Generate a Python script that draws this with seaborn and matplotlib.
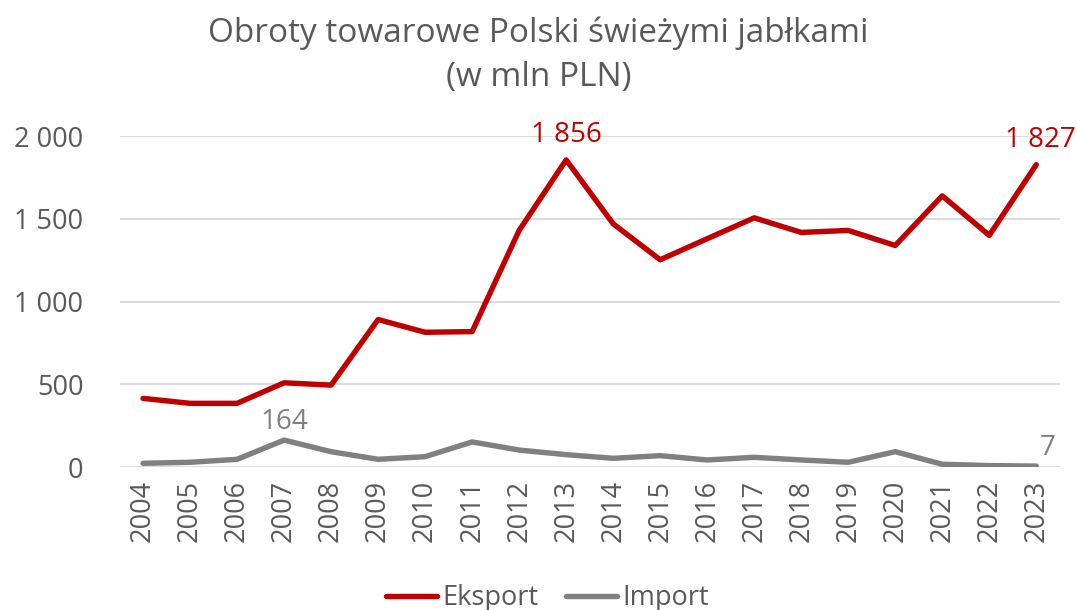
import pandas as pd
import matplotlib.pyplot as plt
import seaborn as sns

# data (mln PLN)
years = [str(y) for y in range(2004, 2024)]
eksport = [416, 386, 386, 510, 496, 892, 815, 819, 1430, 1856,
           1470, 1253, 1380, 1506, 1418, 1430, 1339, 1639, 1400, 1827]
imports = [24, 30, 48, 164, 94, 48, 64, 153, 104, 76,
           54, 70, 44, 60, 44, 30, 94, 18, 10, 7]
yticks = [0, 500, 1000, 1500, 2000]

df = pd.DataFrame({'rok': years * 2,
                   'wartosc': eksport + imports,
                   'seria': ['Eksport'] * len(years) + ['Import'] * len(years)})

sns.set_style("white")
plt.rcParams['font.family'] = ['Open Sans', 'DejaVu Sans']
txt = '#595959'
colors = {'Eksport': '#C00000', 'Import': '#808080'}

fig = plt.figure(figsize=(10.77, 6.10), dpi=100)
ax = fig.add_axes([0.111, 0.234, 0.873, 0.543])

sns.lineplot(data=df, x='rok', y='wartosc', hue='seria', palette=colors,
             linewidth=3.9, ax=ax, sort=False)

ax.set_xlim(-0.5, len(years) - 0.5)
ax.set_ylim(0, 2000)
ax.set_yticks(yticks)
ax.set_yticklabels([f'{v:,}'.replace(',', ' ') for v in yticks])
ax.grid(axis='y', color='#D9D9D9', linewidth=1.3)
ax.set_axisbelow(True)
for s in ax.spines.values():
    s.set_visible(False)
ax.tick_params(axis='both', length=0, colors=txt, labelsize=19.5)
ax.tick_params(axis='x', rotation=90, pad=9)
ax.tick_params(axis='y', pad=26)
ax.set_xlabel('')
ax.set_ylabel('')

# data labels
def fmt(v):
    return f'{v:,}'.replace(',', ' ')

ax.annotate(fmt(eksport[9]), (9, eksport[9]), xytext=(0, 8), textcoords='offset points',
            ha='center', va='bottom', color='#C00000', fontsize=20, annotation_clip=False)
ax.annotate(fmt(eksport[19]), (19, eksport[19]), xytext=(3, 8), textcoords='offset points',
            ha='center', va='bottom', color='#C00000', fontsize=20, annotation_clip=False)
ax.annotate(fmt(imports[3]), (3, imports[3]), xytext=(0, 3), textcoords='offset points',
            ha='center', va='bottom', color='#808080', fontsize=20, annotation_clip=False)
ax.annotate(fmt(imports[19]), (19, imports[19]), xytext=(8, 3), textcoords='offset points',
            ha='center', va='bottom', color='#808080', fontsize=20, annotation_clip=False)

fig.text(0.5, 0.945, 'Obroty towarowe Polski świeżymi jabłkami', ha='center', va='center',
         fontsize=24, color=txt)
fig.text(0.5, 0.873, '(w mln PLN)', ha='center', va='center', fontsize=24, color=txt)

leg = ax.legend(loc='center', bbox_to_anchor=(0.455, -0.395), ncol=2, frameon=False,
                fontsize=19.5, handlelength=1.9, handletextpad=0.2, columnspacing=1.0)
for t in leg.get_texts():
    t.set_color(txt)

fig.savefig('out.png', dpi=100)
